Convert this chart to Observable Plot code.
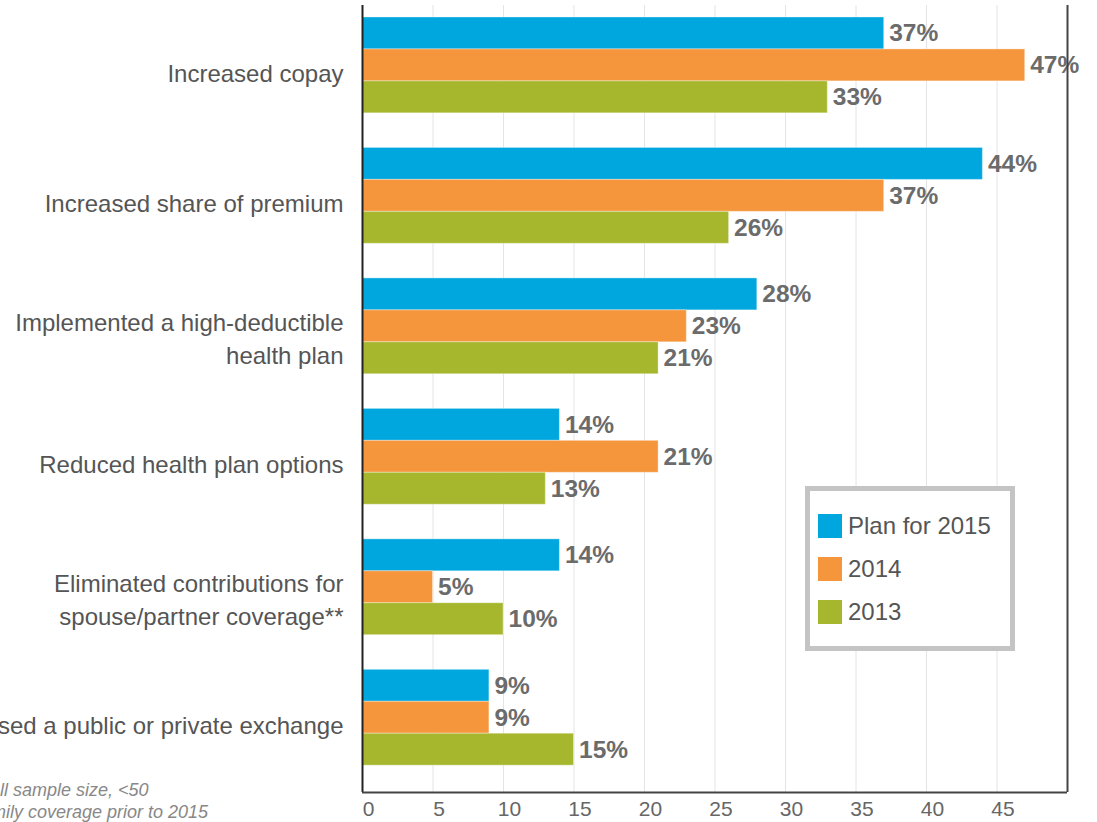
<!DOCTYPE html>
<html>
<head>
<meta charset="utf-8">
<script src="https://cdn.jsdelivr.net/npm/d3@7"></script>
<script src="https://cdn.jsdelivr.net/npm/@observablehq/plot@0.6"></script>
<style>
  body { margin: 0; background: #fff; font-family: "Liberation Sans", Arial, sans-serif; }
  #wrap { position: relative; width: 1097px; height: 822px; overflow: hidden; }
  #wrap svg { display: block; }
  .legend { position: absolute; left: 805px; top: 486px; width: 210px; height: 165px; box-sizing: border-box;
            border: 5px solid #c4c4c4; background: #fff; }
  .legend .row { position: absolute; left: 8px; height: 24px; display: flex; align-items: center;
                 font-size: 24px; color: #555; white-space: nowrap; }
  .legend .sw { width: 24px; height: 24px; margin-right: 6px; flex: none; }
  .notes { position: absolute; left: -44px; top: 780px; font-size: 18px; font-style: italic; color: #888;
           line-height: 21.5px; white-space: nowrap; }
</style>
</head>
<body>
<div id="wrap"></div>
<script>
// ---- data ----
const categories = [
  "Increased copay",
  "Increased share of premium",
  "Implemented a high-deductible\nhealth plan",
  "Reduced health plan options",
  "Eliminated contributions for\nspouse/partner coverage**",
  "Used a public or private exchange"
];
const seriesNames = ["Plan for 2015", "2014", "2013"];
const plan2015 = [37, 44, 28, 14, 14, 9];
const y2014    = [47, 37, 23, 21, 5, 9];
const y2013    = [33, 26, 21, 13, 10, 15];
const seriesColors = ["#00a7de", "#f6963c", "#a6b72e"];
const xTicks = [0, 5, 10, 15, 20, 25, 30, 35, 40, 45];
const footnotes = ["*Small sample size, <50", "**Family coverage prior to 2015"];

// ---- build table ----
const seriesValues = [plan2015, y2014, y2013];
const gap = 1.084;               // gap between groups, in bar heights
const step = 3 + gap;
const rows = [];
categories.forEach((c, i) => {
  seriesNames.forEach((s, j) => {
    rows.push({category: c, series: s, value: seriesValues[j][i], y1: i * step + j, y2: i * step + j + 1});
  });
});
const catRows = categories.map((c, i) => ({label: c, yc: i * step + 1.5, multi: c.includes("\n")}));
const yTop = -0.375;
const yBottom = (categories.length - 1) * step + 3 + 0.84;

const labelStyle = {frameAnchor: "left", y: "yc", text: "label", textAnchor: "end", dx: -19,
                    fontSize: 24, fill: "#555", lineHeight: 1.38};

const chart = Plot.plot({
  width: 1097,
  height: 822,
  marginLeft: 362,
  marginRight: 30,
  marginTop: 5,
  marginBottom: 30,
  style: {fontFamily: "'Liberation Sans', Arial, sans-serif", background: "#fff"},
  x: {domain: [0, 50], ticks: xTicks, tickSize: 0, tickPadding: 9, label: null},
  y: {domain: [yTop, yBottom], reverse: true, axis: null},
  color: {domain: seriesNames, range: seriesColors},
  marks: [
    Plot.ruleX(xTicks.filter(d => d > 0), {stroke: "#e4e4e4", strokeWidth: 1}),
    Plot.rect(rows, {x1: 0, x2: "value", y1: "y1", y2: "y2", fill: "series",
                     stroke: "#fff", strokeOpacity: 0.35, strokeWidth: 1}),
    Plot.text(rows, {x: "value", y: d => (d.y1 + d.y2) / 2, text: d => d.value + "%",
                     dx: 5, dy: 0, textAnchor: "start", fontWeight: "bold", fontSize: 24.5, fill: "#6b6b6b"}),
    Plot.text(catRows.filter(d => !d.multi), {...labelStyle, dy: 6}),
    Plot.text(catRows.filter(d => d.multi), {...labelStyle, dy: 11}),
    Plot.ruleX([0], {stroke: "#222", strokeWidth: 2}),
    Plot.ruleX([50], {stroke: "#444", strokeWidth: 2}),
    Plot.ruleY([yBottom], {x1: 0, x2: 50, stroke: "#444", strokeWidth: 2})
  ]
});

// tick label styling
chart.querySelectorAll("[aria-label='x-axis tick label'] text, g[aria-label='x-axis'] text").forEach(t => {
  t.setAttribute("font-size", "21");
  t.setAttribute("fill", "#666");
  t.setAttribute("dx", "6");
});
const xAxisG = chart.querySelector("[aria-label='x-axis tick label']") || chart.querySelector("[aria-label='x-axis']");
if (xAxisG) { xAxisG.setAttribute("font-size", "21"); xAxisG.setAttribute("fill", "#666"); }

const wrap = document.getElementById("wrap");
wrap.appendChild(chart);

// legend
const legend = document.createElement("div");
legend.className = "legend";
seriesNames.forEach((s, j) => {
  const row = document.createElement("div");
  row.className = "row";
  row.style.top = (23 + j * 43) + "px";
  const sw = document.createElement("span");
  sw.className = "sw";
  sw.style.background = seriesColors[j];
  row.appendChild(sw);
  row.appendChild(document.createTextNode(s));
  legend.appendChild(row);
});
wrap.appendChild(legend);

// footnotes
const notes = document.createElement("div");
notes.className = "notes";
notes.innerHTML = footnotes.map(f => f.replace(/</g, "&lt;")).join("<br>");
wrap.appendChild(notes);
</script>
</body>
</html>
